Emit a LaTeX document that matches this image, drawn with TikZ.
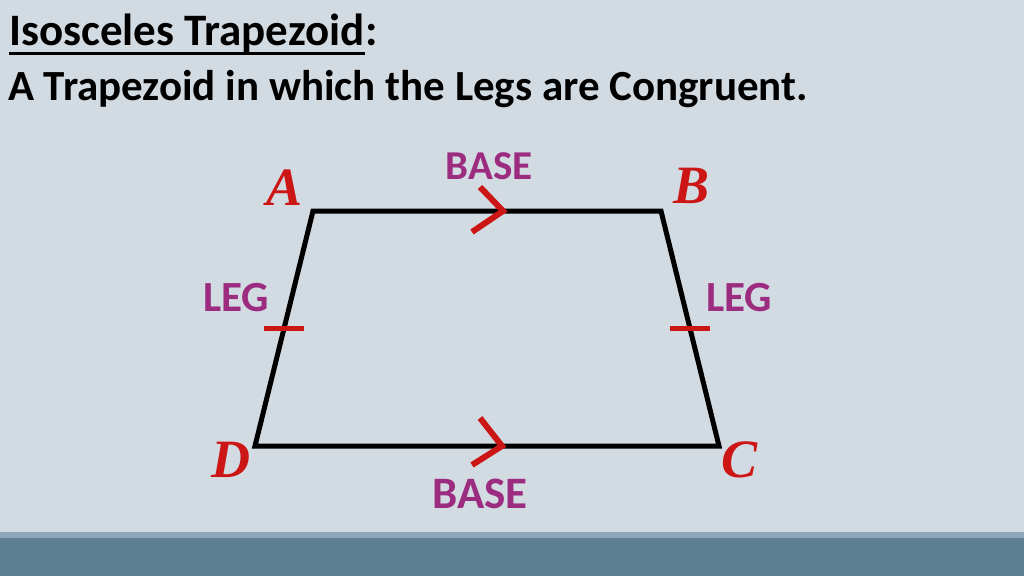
\documentclass[tikz,border=0pt]{standalone}
\usepackage{fontspec}
\setmainfont{Carlito}
\newfontfamily\vertexfont{Liberation Serif}
\usetikzlibrary{positioning}
\usetikzlibrary{calc}
\definecolor{slidebg}{HTML}{D3DBE2}
\definecolor{bandlight}{HTML}{8EA7B7}
\definecolor{banddark}{HTML}{5F7F93}
\definecolor{markred}{HTML}{CC1616}
\definecolor{labelpurple}{HTML}{9C2C80}
\tikzset{
  headtext/.style={font=\fontsize{43}{50}\selectfont\bfseries,text=black,inner sep=0pt,anchor=base west},
  parttext/.style={font=\fontsize{43}{50}\selectfont\bfseries,text=labelpurple,inner sep=0pt,anchor=base},
  vertextext/.style={font=\fontsize{54}{60}\selectfont\vertexfont\bfseries\itshape,text=markred,inner sep=0pt,anchor=base},
  side/.style={line width=5pt,line join=miter,black},
  chevron/.style={line width=6pt,markred,line join=miter},
  legtick/.style={line width=5pt,markred}
}
\begin{document}
\begin{tikzpicture}[x=1pt,y=-1pt]
\useasboundingbox (0,0) rectangle (1024,576);
\fill[slidebg] (0,0) rectangle (1024,576);
\fill[bandlight] (0,532) rectangle (1024,538);
\fill[banddark] (0,538) rectangle (1024,576);

% heading
\node[headtext,font=\fontsize{45}{52}\selectfont\bfseries] (title) at (9,45) {Isosceles Trapezoid};
\node[headtext,font=\fontsize{45}{52}\selectfont\bfseries] (colon) at (title.base east) {:};
\draw[line width=3pt] ([yshift=-8pt]title.base west) -- ([yshift=-8pt]title.base east);
\node[headtext] (defn) at (8,100) {A Trapezoid in which the Legs are Congruent.};

% trapezoid
\coordinate (A) at (313,211);
\coordinate (B) at (661,211);
\coordinate (C) at (719,446);
\coordinate (D) at (255,446);
\draw[side] (A) -- (B) -- (C) -- (D) -- cycle;

% parallel marks
\coordinate (toptip) at (503,211);
\coordinate (bottip) at (502,446);
\draw[chevron] ([shift={(-23,-24)}]toptip) -- (toptip) -- ([shift={(-31,21)}]toptip);
\draw[chevron] ([shift={(-22,-28)}]bottip) -- (bottip) -- ([shift={(-30,19)}]bottip);

% congruence ticks
\coordinate (leftmid) at ($(A)!0.5!(D)$);
\coordinate (rightmid) at ($(B)!0.5!(C)$);
\draw[legtick] ([xshift=-20pt]leftmid) -- ([xshift=20pt]leftmid);
\draw[legtick] ([xshift=-20pt]rightmid) -- ([xshift=20pt]rightmid);

% labels
\node[parttext,font=\fontsize{41}{48}\selectfont\bfseries] (topbase) at (489,179) {BASE};
\node[parttext,font=\fontsize{45}{52}\selectfont\bfseries] (botbase) at (480,508) {BASE};
\node[parttext] (leftleg) at (236,311) {LEG};
\node[parttext] (rightleg) at (739,311) {LEG};

\node[vertextext] (labA) at (285,205) {A};
\node[vertextext] (labB) at (691,203) {B};
\node[vertextext] (labC) at (739,477) {C};
\node[vertextext] (labD) at (231,477) {D};
\end{tikzpicture}
\end{document}
